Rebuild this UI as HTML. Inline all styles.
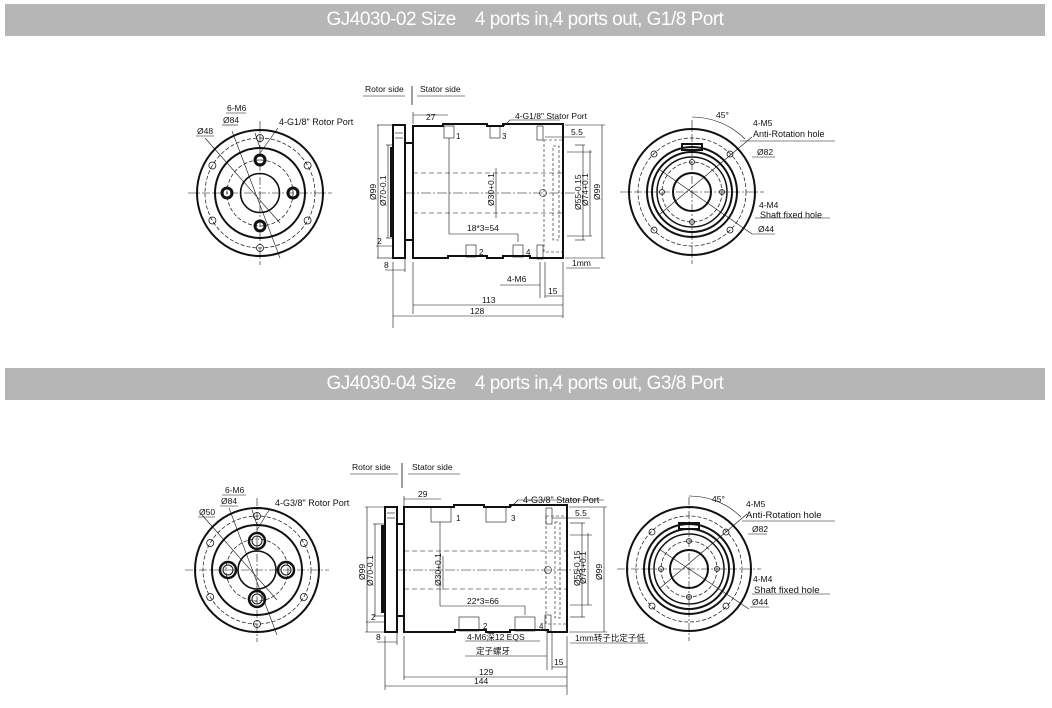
<!DOCTYPE html>
<html><head><meta charset="utf-8"><style>
html,body{margin:0;padding:0;background:#fff;}
body{width:1052px;height:708px;overflow:hidden;position:relative;font-family:"Liberation Sans",sans-serif;}
.ban{position:absolute;left:5px;width:1040px;height:32px;background:#b6b6b6;color:#fff;font-size:19px;line-height:32px;text-align:center;letter-spacing:-0.5px;}
svg{position:absolute;left:0;top:0;}
text{font-family:"Liberation Sans","Noto Sans CJK SC",sans-serif;font-size:8.5px;fill:#111;stroke:none;}
</style></head><body>
<div class="ban" style="top:4px">GJ4030-02 Size&nbsp;&nbsp;&nbsp; 4 ports in,4 ports out, G1/8 Port</div>
<div class="ban" style="top:368px">GJ4030-04 Size&nbsp;&nbsp;&nbsp; 4 ports in,4 ports out, G3/8 Port</div>
<svg width="1052" height="708" viewBox="0 0 1052 708" fill="none" stroke="#111">
<!-- ===== TOP SECTION ===== -->
<g>
 <g transform="translate(260,193)">
  <circle r="63" stroke-width="2"/>
  <circle r="45" stroke-width="2"/>
  <circle r="19.5" stroke-width="1.6"/>
  <circle r="55" stroke-width="0.7" stroke-dasharray="4 2"/>
  <circle r="33" stroke-width="0.7" stroke-dasharray="4 2"/>
  <line x1="-72" y1="0" x2="72" y2="0" stroke-width="0.6" stroke-dasharray="8 2 2 2"/>
  <line x1="0" y1="-72" x2="0" y2="72" stroke-width="0.6" stroke-dasharray="8 2 2 2"/>
  <g stroke-width="0.8">
   <circle cx="0" cy="-55" r="3.5"/><circle cx="0" cy="55" r="3.5"/>
   <circle cx="47.6" cy="-27.5" r="3.5"/><circle cx="-47.6" cy="-27.5" r="3.5"/>
   <circle cx="47.6" cy="27.5" r="3.5"/><circle cx="-47.6" cy="27.5" r="3.5"/>
  </g>
  <g stroke-width="3"><circle cx="0" cy="-33" r="5"/><circle cx="0" cy="33" r="5"/><circle cx="33" cy="0" r="5"/><circle cx="-33" cy="0" r="5"/></g>
  <g stroke-width="0.6"><line x1="-55" y1="-55" x2="20" y2="30"/><line x1="-28" y1="-62" x2="20" y2="65"/><line x1="-5" y1="-60" x2="0" y2="-45"/><line x1="18" y1="-65" x2="0" y2="-40"/></g>
 </g>
 <g stroke-width="0.6"><line x1="196" y1="136" x2="214" y2="136"/><line x1="222" y1="125" x2="238" y2="125"/><line x1="226" y1="113" x2="246" y2="113"/></g>
 <text x="197" y="134">Ø48</text><text x="223" y="123">Ø84</text><text x="227" y="111">6-M6</text>
 <text x="279" y="125" style="font-size:9px">4-G1/8" Rotor Port</text>
 <text x="365" y="92">Rotor side</text><text x="420" y="92">Stator side</text>
 <line x1="363" y1="96" x2="405" y2="96" stroke-width="0.6"/><line x1="417" y1="96" x2="465" y2="96" stroke-width="0.6"/>
 <line x1="412" y1="86" x2="412" y2="105" stroke-width="0.8"/>
 <g stroke-width="2">
  <rect x="393" y="125" width="12" height="133"/>
  <path d="M405 143 H413 M405 240 H413"/>
  <path d="M413 126 H443 V124 H487 V126 H503 V124 H563 V258 H530 V256 H503 V258 H487 V256 H448 V258 H413 Z"/>
 </g>
 <rect x="390" y="147" width="3" height="90" fill="#111" stroke="none"/>
 <g stroke-width="0.6">
  <line x1="395" y1="133" x2="403" y2="133"/><line x1="395" y1="138" x2="403" y2="138"/>
  <line x1="405" y1="193" x2="580" y2="193" stroke-dasharray="10 2 2 2"/>
  <line x1="413" y1="173" x2="563" y2="173" stroke-dasharray="5 3"/><line x1="413" y1="213" x2="563" y2="213" stroke-dasharray="5 3"/>
  <rect x="553" y="146" width="6" height="94" stroke-dasharray="3 2"/>
  <rect x="544" y="140" width="19" height="112" stroke-dasharray="3 2"/>
  <circle cx="543" cy="193" r="3.5"/>
  <rect x="444" y="126" width="10" height="12"/><rect x="490" y="126" width="10" height="12"/>
  <rect x="466" y="245" width="10" height="12"/><rect x="513" y="245" width="10" height="12"/>
  <rect x="537" y="126" width="6" height="14"/><rect x="537" y="245" width="6" height="14"/>
  <line x1="449" y1="138" x2="449" y2="234"/><line x1="449" y1="234" x2="518" y2="234"/><line x1="518" y1="234" x2="518" y2="242"/>
  <line x1="378" y1="125" x2="378" y2="258"/><line x1="377" y1="125" x2="393" y2="125"/><line x1="377" y1="258" x2="393" y2="258"/>
  <line x1="388" y1="145" x2="388" y2="238"/><line x1="386" y1="145" x2="393" y2="145"/><line x1="386" y1="238" x2="393" y2="238"/>
  <line x1="496" y1="168" x2="496" y2="218"/>
  <line x1="567" y1="152" x2="592" y2="152"/><line x1="590" y1="150" x2="590" y2="236"/><line x1="567" y1="236" x2="592" y2="236"/>
  <line x1="575" y1="145" x2="585" y2="145"/><line x1="583" y1="145" x2="583" y2="240"/><line x1="575" y1="240" x2="585" y2="240"/>
  <line x1="565" y1="125" x2="605" y2="125"/><line x1="602" y1="125" x2="602" y2="258"/><line x1="565" y1="258" x2="605" y2="258"/>
  <line x1="413" y1="115" x2="448" y2="115"/><line x1="413" y1="112" x2="413" y2="124"/>
  <line x1="545" y1="137" x2="585" y2="137"/>
  <line x1="393" y1="262" x2="393" y2="328"/><line x1="405" y1="258" x2="405" y2="272"/><line x1="385" y1="270" x2="405" y2="270"/>
  <line x1="413" y1="262" x2="413" y2="314"/><line x1="563" y1="262" x2="563" y2="318"/>
  <line x1="413" y1="305" x2="563" y2="305"/><line x1="393" y1="316" x2="563" y2="316"/>
  <line x1="540" y1="262" x2="540" y2="298"/><line x1="545" y1="262" x2="545" y2="298"/>
  <line x1="545" y1="296" x2="563" y2="296"/><line x1="500" y1="285" x2="540" y2="285"/>
  <line x1="566" y1="268" x2="600" y2="268"/>
  <line x1="376" y1="246" x2="393" y2="246"/>
  <line x1="510" y1="120" x2="503" y2="127"/><line x1="510" y1="120" x2="560" y2="120"/>
 </g>
 <text x="426" y="120">27</text><text x="515" y="119">4-G1/8" Stator Port</text>
 <text x="571" y="135">5.5</text>
 <text x="456" y="139" style="font-size:8px">1</text><text x="502" y="139" style="font-size:8px">3</text>
 <text x="479" y="255" style="font-size:8px">2</text><text x="526" y="255" style="font-size:8px">4</text>
 <text x="467" y="231">18*3=54</text>
 <text x="377" y="244">2</text><text x="384" y="268">8</text>
 <text x="572" y="266">1mm</text><text x="507" y="282">4-M6</text><text x="548" y="294">15</text>
 <text x="482" y="303">113</text><text x="470" y="314">128</text>
 <g style="font-size:8px">
  <text transform="translate(376,200) rotate(-90)">Ø99</text>
  <text transform="translate(386,206) rotate(-90)">Ø70-0.1</text>
  <text transform="translate(494,206) rotate(-90)">Ø30+0.1</text>
  <text transform="translate(581,210) rotate(-90)">Ø55-0.15</text>
  <text transform="translate(588,206) rotate(-90)">Ø74+0.1</text>
  <text transform="translate(600,200) rotate(-90)">Ø99</text>
 </g>
 <g transform="translate(692,192)">
  <circle r="63" stroke-width="2"/>
  <circle r="45" stroke-width="2"/><circle r="40" stroke-width="2"/><circle r="35" stroke-width="1.5"/>
  <circle r="19" stroke-width="2"/>
  <circle r="54" stroke-width="0.7" stroke-dasharray="4 2"/><circle r="30" stroke-width="0.7" stroke-dasharray="4 2"/>
  <line x1="-72" y1="0" x2="72" y2="0" stroke-width="0.6" stroke-dasharray="8 2 2 2"/>
  <line x1="0" y1="-72" x2="0" y2="72" stroke-width="0.6" stroke-dasharray="8 2 2 2"/>
  <g stroke-width="0.8"><circle cx="-38" cy="-38" r="3"/><circle cx="38" cy="-38" r="3"/><circle cx="-38" cy="38" r="3"/><circle cx="38" cy="38" r="3"/>
  <circle cx="0" cy="-30" r="2.5"/><circle cx="0" cy="30" r="2.5"/><circle cx="30" cy="0" r="2.5"/><circle cx="-30" cy="0" r="2.5"/></g>
  <rect x="-10" y="-48" width="20" height="6" stroke-width="2"/>
  <g stroke-width="0.6"><line x1="-32" y1="-22" x2="60" y2="42"/><line x1="-32" y1="22" x2="60" y2="-55"/><path d="M0 -75 A75 75 0 0 1 53 -53"/></g>
 </g>
 <g stroke-width="0.6"><line x1="740" y1="141" x2="835" y2="141"/><line x1="752" y1="157" x2="775" y2="157"/><line x1="755" y1="218" x2="830" y2="218"/><line x1="752" y1="234" x2="775" y2="234"/></g>
 <text x="716" y="118">45°</text><text x="753" y="126">4-M5</text><text x="753" y="137" style="font-size:9px">Anti-Rotation hole</text>
 <text x="757" y="155">Ø82</text><text x="759" y="208">4-M4</text><text x="760" y="218" style="font-size:9px">Shaft fixed hole</text><text x="758" y="232">Ø44</text>
</g>

<!-- ===== BOTTOM SECTION ===== -->
<g>
 <g transform="translate(257,570)">
  <circle r="62" stroke-width="2"/>
  <circle r="45" stroke-width="2"/>
  <circle r="19" stroke-width="1.6"/>
  <circle r="54" stroke-width="0.7" stroke-dasharray="4 2"/>
  <circle r="31" stroke-width="0.7" stroke-dasharray="4 2"/>
  <line x1="-72" y1="0" x2="72" y2="0" stroke-width="0.6" stroke-dasharray="8 2 2 2"/>
  <line x1="0" y1="-72" x2="0" y2="72" stroke-width="0.6" stroke-dasharray="8 2 2 2"/>
  <g stroke-width="0.8">
   <circle cx="0" cy="-54" r="3.5"/><circle cx="0" cy="54" r="3.5"/>
   <circle cx="46.8" cy="-27" r="3.5"/><circle cx="-46.8" cy="-27" r="3.5"/>
   <circle cx="46.8" cy="27" r="3.5"/><circle cx="-46.8" cy="27" r="3.5"/>
  </g>
  <g stroke-width="2.5"><circle cx="0" cy="-29" r="8"/><circle cx="0" cy="29" r="8"/><circle cx="29" cy="0" r="8"/><circle cx="-29" cy="0" r="8"/></g>
  <g stroke-width="1"><circle cx="0" cy="-29" r="5"/><circle cx="0" cy="29" r="5"/><circle cx="29" cy="0" r="5"/><circle cx="-29" cy="0" r="5"/></g>
  <g stroke-width="0.6"><line x1="-55" y1="-55" x2="20" y2="30"/><line x1="-28" y1="-62" x2="20" y2="65"/><line x1="-5" y1="-60" x2="0" y2="-45"/><line x1="12" y1="-60" x2="0" y2="-40"/></g>
 </g>
 <g stroke-width="0.6"><line x1="198" y1="517" x2="215" y2="517"/><line x1="220" y1="506" x2="238" y2="506"/><line x1="222" y1="495" x2="246" y2="495"/></g>
 <text x="199" y="515">Ø50</text><text x="221" y="504">Ø84</text><text x="225" y="493">6-M6</text>
 <text x="275" y="506" style="font-size:9px">4-G3/8" Rotor Port</text>
 <text x="352" y="470">Rotor side</text><text x="412" y="470">Stator side</text>
 <line x1="350" y1="474" x2="398" y2="474" stroke-width="0.6"/><line x1="408" y1="474" x2="460" y2="474" stroke-width="0.6"/>
 <line x1="402" y1="463" x2="402" y2="488" stroke-width="0.8"/>
 <g stroke-width="2">
  <rect x="385" y="507" width="12" height="125"/>
  <path d="M397 524 H404 M397 616 H404"/>
  <path d="M404 507 H454 V505 H484 V507 H510 V505 H567 V632 H548 V630 H510 V632 H486 V630 H455 V632 H404 Z"/>
 </g>
 <rect x="381" y="525" width="3" height="88" fill="#111" stroke="none"/>
 <g stroke-width="0.6">
  <line x1="387" y1="513" x2="395" y2="513"/><line x1="387" y1="518" x2="395" y2="518"/>
  <line x1="397" y1="570" x2="580" y2="570" stroke-dasharray="10 2 2 2"/>
  <line x1="404" y1="551" x2="567" y2="551" stroke-dasharray="5 3"/><line x1="404" y1="589" x2="567" y2="589" stroke-dasharray="5 3"/>
  <rect x="555" y="522" width="5" height="96" stroke-dasharray="3 2"/>
  <rect x="546" y="516" width="21" height="108" stroke-dasharray="3 2"/>
  <circle cx="548" cy="570" r="3.5"/>
  <rect x="431" y="507" width="20" height="15"/><rect x="486" y="507" width="20" height="15"/>
  <rect x="459" y="617" width="20" height="14"/><rect x="515" y="617" width="20" height="14"/>
  <rect x="546" y="508" width="6" height="16"/><rect x="545" y="615" width="6" height="16"/>
  <line x1="440" y1="522" x2="440" y2="606"/><line x1="440" y1="606" x2="525" y2="606"/><line x1="525" y1="606" x2="525" y2="615"/>
  <line x1="367" y1="507" x2="367" y2="632"/><line x1="365" y1="507" x2="385" y2="507"/><line x1="365" y1="632" x2="385" y2="632"/>
  <line x1="375" y1="524" x2="375" y2="616"/><line x1="373" y1="524" x2="385" y2="524"/><line x1="373" y1="616" x2="385" y2="616"/>
  <line x1="443" y1="556" x2="443" y2="590"/>
  <line x1="570" y1="535" x2="592" y2="535"/><line x1="588" y1="533" x2="588" y2="605"/><line x1="570" y1="605" x2="592" y2="605"/>
  <line x1="570" y1="523" x2="585" y2="523"/><line x1="582" y1="523" x2="582" y2="617"/><line x1="570" y1="617" x2="585" y2="617"/>
  <line x1="569" y1="507" x2="607" y2="507"/><line x1="604" y1="507" x2="604" y2="632"/><line x1="569" y1="632" x2="607" y2="632"/>
  <line x1="404" y1="499" x2="441" y2="499"/><line x1="404" y1="496" x2="404" y2="506"/>
  <line x1="552" y1="518" x2="590" y2="518"/>
  <line x1="385" y1="636" x2="385" y2="690"/><line x1="397" y1="632" x2="397" y2="645"/><line x1="377" y1="642" x2="397" y2="642"/>
  <line x1="404" y1="636" x2="404" y2="680"/><line x1="567" y1="636" x2="567" y2="695"/>
  <line x1="404" y1="677" x2="567" y2="677"/><line x1="385" y1="686" x2="567" y2="686"/>
  <line x1="547" y1="632" x2="547" y2="670"/><line x1="552" y1="632" x2="552" y2="670"/>
  <line x1="552" y1="667" x2="567" y2="667"/><line x1="465" y1="656" x2="547" y2="656"/><line x1="465" y1="641" x2="540" y2="641"/>
  <line x1="570" y1="643" x2="648" y2="643"/>
  <line x1="366" y1="622" x2="385" y2="622"/>
  <line x1="518" y1="500" x2="511" y2="507"/><line x1="518" y1="500" x2="604" y2="500"/>
 </g>
 <text x="418" y="497">29</text><text x="523" y="503" style="font-size:9px">4-G3/8" Stator Port</text>
 <text x="575" y="516">5.5</text>
 <text x="456" y="521" style="font-size:8px">1</text><text x="511" y="521" style="font-size:8px">3</text>
 <text x="483" y="629" style="font-size:8px">2</text><text x="539" y="629" style="font-size:8px">4</text>
 <text x="467" y="604">22*3=66</text>
 <text x="371" y="620">2</text><text x="376" y="640">8</text>
 <text x="575" y="641">1mm转子比定子低</text><text x="467" y="640">4-M6深12 EQS</text><text x="476" y="654">定子螺牙</text><text x="554" y="665">15</text>
 <text x="479" y="675">129</text><text x="474" y="684">144</text>
 <g style="font-size:8px">
  <text transform="translate(365,580) rotate(-90)">Ø99</text>
  <text transform="translate(373,586) rotate(-90)">Ø70-0.1</text>
  <text transform="translate(441,586) rotate(-90)">Ø30+0.1</text>
  <text transform="translate(580,586) rotate(-90)">Ø55-0.15</text>
  <text transform="translate(586,584) rotate(-90)">Ø74+0.1</text>
  <text transform="translate(602,580) rotate(-90)">Ø99</text>
 </g>
 <g transform="translate(689,569)">
  <circle r="62" stroke-width="2"/>
  <circle r="45" stroke-width="2"/><circle r="40" stroke-width="2"/><circle r="35" stroke-width="1.5"/>
  <circle r="19" stroke-width="2"/>
  <circle r="53" stroke-width="0.7" stroke-dasharray="4 2"/><circle r="28" stroke-width="0.7" stroke-dasharray="4 2"/>
  <line x1="-72" y1="0" x2="72" y2="0" stroke-width="0.6" stroke-dasharray="8 2 2 2"/>
  <line x1="0" y1="-72" x2="0" y2="72" stroke-width="0.6" stroke-dasharray="8 2 2 2"/>
  <g stroke-width="0.8"><circle cx="-37" cy="-37" r="3"/><circle cx="37" cy="-37" r="3"/><circle cx="-37" cy="37" r="3"/><circle cx="37" cy="37" r="3"/>
  <circle cx="0" cy="-28" r="2.5"/><circle cx="0" cy="28" r="2.5"/><circle cx="28" cy="0" r="2.5"/><circle cx="-28" cy="0" r="2.5"/></g>
  <rect x="-10" y="-46" width="20" height="6" stroke-width="2"/>
  <g stroke-width="0.6"><line x1="-30" y1="-20" x2="60" y2="40"/><line x1="-30" y1="20" x2="58" y2="-55"/><path d="M0 -73 A73 73 0 0 1 52 -52"/></g>
 </g>
 <g stroke-width="0.6"><line x1="742" y1="521" x2="835" y2="521"/><line x1="748" y1="534" x2="767" y2="534"/><line x1="752" y1="594" x2="830" y2="594"/><line x1="750" y1="607" x2="769" y2="607"/></g>
 <text x="712" y="502">45°</text><text x="746" y="507">4-M5</text><text x="746" y="518" style="font-size:9.5px">Anti-Rotation hole</text>
 <text x="752" y="532">Ø82</text><text x="753" y="582">4-M4</text><text x="754" y="593" style="font-size:9.5px">Shaft fixed hole</text><text x="752" y="605">Ø44</text>
</g>
</svg>
</body></html>
